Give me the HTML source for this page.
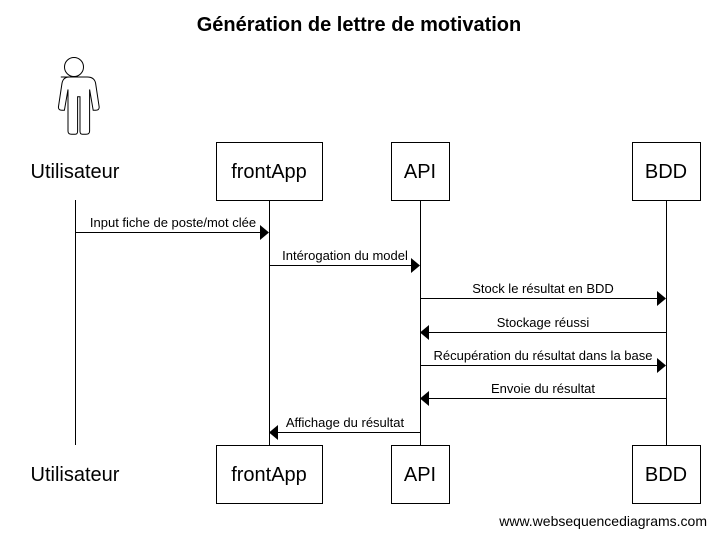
<!DOCTYPE html>
<html><head><meta charset="utf-8"><style>
body{margin:0;background:#fff}
svg{display:block;font-family:"Liberation Sans",sans-serif}
</style></head><body>
<svg width="716" height="536" viewBox="0 0 716 536">
<text x="359" y="31" font-size="20" font-weight="bold" text-anchor="middle" fill="#000">Génération de lettre de motivation</text>
<g fill="#fff" stroke="#000" stroke-width="1">
<circle cx="74" cy="67" r="9.5"/>
<path vector-effect="non-scaling-stroke" transform="translate(74,77) scale(1.2,1.04) translate(-73,-82)" d="M62,82 h22 q6,0 7,6 l3,23 q0,3 -3,3 l-2,0 l-3,-20 l0,40 q0,3 -3,3 h-3 q-2,0 -2,-3 v-33 h-2 v33 q0,3 -2,3 h-3 q-3,0 -3,-3 l0,-40 l-3,20 l-2,0 q-3,0 -3,-3 l3,-23 q1,-6 6,-6z"/>
</g>
<g stroke="#000" fill="none">
<line x1="75.5" y1="200" x2="75.5" y2="445"/>
<line x1="269.5" y1="200" x2="269.5" y2="445"/>
<line x1="420.5" y1="200" x2="420.5" y2="445"/>
<line x1="666.5" y1="200" x2="666.5" y2="445"/>
<rect x="216.5" y="142.5" width="106" height="58" fill="#fff"/>
<rect x="391.5" y="142.5" width="58" height="58" fill="#fff"/>
<rect x="632.5" y="142.5" width="68" height="58" fill="#fff"/>
<rect x="216.5" y="445.5" width="106" height="58" fill="#fff"/>
<rect x="391.5" y="445.5" width="58" height="58" fill="#fff"/>
<rect x="632.5" y="445.5" width="68" height="58" fill="#fff"/>
<line x1="75" y1="232.5" x2="262" y2="232.5"/>
<line x1="269" y1="265.5" x2="413" y2="265.5"/>
<line x1="420" y1="298.5" x2="659" y2="298.5"/>
<line x1="428" y1="332.5" x2="666" y2="332.5"/>
<line x1="420" y1="365.5" x2="659" y2="365.5"/>
<line x1="428" y1="398.5" x2="666" y2="398.5"/>
<line x1="277" y1="432.5" x2="420" y2="432.5"/>
</g>
<g fill="#000">
<polygon points="260,225 269,232.5 260,240"/>
<polygon points="411,258 420,265.5 411,273"/>
<polygon points="657,291 666,298.5 657,306"/>
<polygon points="429,325 420,332.5 429,340"/>
<polygon points="657,358 666,365.5 657,373"/>
<polygon points="429,391 420,398.5 429,406"/>
<polygon points="278,425 269,432.5 278,440"/>
</g>
<g font-size="20" fill="#000" text-anchor="middle">
<text x="75" y="178">Utilisateur</text>
<text x="269" y="178">frontApp</text>
<text x="420" y="178">API</text>
<text x="666" y="178">BDD</text>
<text x="75" y="481">Utilisateur</text>
<text x="269" y="481">frontApp</text>
<text x="420" y="481">API</text>
<text x="666" y="481">BDD</text>
</g>
<g font-size="13" fill="#000" text-anchor="middle">
<text x="173" y="227">Input fiche de poste/mot clée</text>
<text x="345" y="260">Intérogation du model</text>
<text x="543" y="293">Stock le résultat en BDD</text>
<text x="543" y="327">Stockage réussi</text>
<text x="543" y="360">Récupération du résultat dans la base</text>
<text x="543" y="393">Envoie du résultat</text>
<text x="345" y="427">Affichage du résultat</text>
</g>
<text x="707" y="526" font-size="14" text-anchor="end" fill="#000">www.websequencediagrams.com</text>
</svg>
</body></html>
